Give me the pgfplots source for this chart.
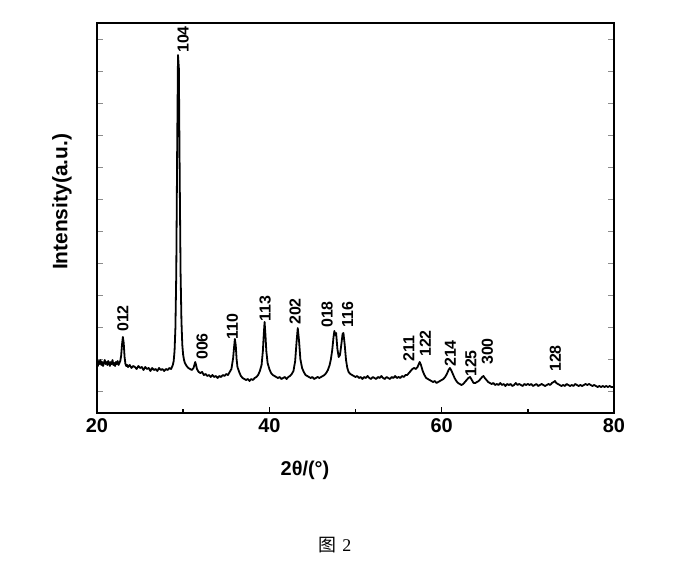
\documentclass[border=0pt]{standalone}
\usepackage{pgfplots}
\pgfplotsset{compat=1.18}
\usepackage{fontspec}
\setmainfont{Liberation Sans}
\newfontfamily\cjk{Noto Sans CJK SC}
\newfontfamily\serif{Liberation Serif}
\begin{document}
\begin{tikzpicture}
\useasboundingbox (0,0) rectangle (698bp,567bp);
\begin{axis}[
  at={(97bp,154bp)}, anchor=south west,
  scale only axis, width=517bp, height=390bp,
  xmin=20, xmax=80, ymin=0, ymax=390,
  xtick={20,40,60,80}, minor xtick={30,50,70},
  xtick pos=bottom,
  ytick={22,54,...,374}, yticklabels={},
  tick align=inside,
  major tick length=6bp, minor tick length=4bp,
  every tick/.style={black, line width=1.5bp},
  ytick style={line width=0.5bp, black!45},
  axis line style={line width=2.2bp},
  /pgf/number format/assume math mode=true,
  xticklabel style={font=\bfseries\fontsize{20}{20}\selectfont, yshift=-2bp},
  clip=false,
]
\addplot[black, line width=1.8bp, line join=round] coordinates {
(20.0,50)(20.1,47)(20.2,52)(20.3,49)(20.4,53)(20.5,48)(20.6,51)(20.7,47)(20.8,50)(20.9,53)
(21.0,49)(21.1,51)(21.2,48)(21.3,52)(21.4,50)(21.5,47)(21.6,51)(21.7,49)(21.8,53)(21.9,48)
(22.0,50)(22.1,47)(22.2,51)(22.3,49)(22.4,52)(22.5,48)(22.6,50)(22.7,52)(22.8,57)(22.9,68)
(23.0,76)(23.1,70)(23.2,56)(23.3,49)(23.4,47)(23.5,48)(23.6,46)(23.8,48)(24.0,45)(24.2,47)
(24.4,46)(24.6,44)(24.8,47)(25.0,45)(25.2,46)(25.4,43)(25.6,46)(25.8,44)(26.0,45)(26.2,42)
(26.4,45)(26.6,43)(26.8,44)(27.0,42)(27.2,45)(27.4,43)(27.6,44)(27.8,42)(28.0,44)(28.2,43)
(28.4,45)(28.6,44)(28.8,48)(28.9,52)(29.0,62)(29.1,85)(29.2,140)(29.3,260)(29.4,358)(29.5,345)
(29.6,235)(29.7,140)(29.8,92)(29.9,68)(30.0,58)(30.1,53)(30.2,50)(30.4,47)(30.6,45)(30.8,44)
(31.0,43)(31.2,45)(31.3,48)(31.4,51)(31.5,48)(31.6,44)(31.8,41)(32.0,40)(32.2,41)(32.4,38)
(32.6,39)(32.8,37)(33.0,38)(33.2,36)(33.4,38)(33.6,36)(33.8,37)(34.0,35)(34.2,37)(34.4,36)
(34.6,38)(34.8,37)(35.0,39)(35.2,38)(35.4,41)(35.6,44)(35.8,55)(35.9,65)(36.0,74)(36.1,68)
(36.2,54)(36.3,46)(36.5,41)(36.7,37)(36.9,35)(37.1,34)(37.3,33)(37.5,34)(37.7,32)(37.9,34)
(38.1,33)(38.3,35)(38.5,36)(38.7,38)(38.9,42)(39.1,48)(39.25,62)(39.35,78)(39.45,91)(39.55,78)
(39.65,62)(39.8,50)(40.0,44)(40.2,40)(40.4,38)(40.6,37)(40.8,36)(41.0,35)(41.2,36)(41.4,34)
(41.6,35)(41.8,36)(42.0,34)(42.2,36)(42.4,37)(42.6,39)(42.8,42)(43.0,52)(43.15,70)(43.3,85)
(43.45,72)(43.6,54)(43.8,45)(44.0,41)(44.2,38)(44.4,37)(44.6,36)(44.8,35)(45.0,36)(45.2,34)
(45.4,35)(45.6,36)(45.8,35)(46.0,36)(46.2,37)(46.4,38)(46.6,40)(46.8,43)(47.0,48)(47.15,54)
(47.3,63)(47.45,76)(47.55,82)(47.65,78)(47.75,80)(47.9,64)(48.05,56)(48.2,58)(48.35,68)(48.5,79)
(48.6,80)(48.75,68)(48.9,53)(49.05,45)(49.2,41)(49.4,39)(49.6,38)(49.8,37)(50.0,36)(50.2,37)
(50.4,35)(50.6,36)(50.8,34)(51.0,36)(51.2,35)(51.4,37)(51.6,35)(51.8,34)(52.0,36)(52.2,35)
(52.4,34)(52.6,36)(52.8,35)(53.0,37)(53.2,35)(53.4,34)(53.6,36)(53.8,35)(54.0,34)(54.2,36)
(54.4,35)(54.6,37)(54.8,35)(55.0,36)(55.2,35)(55.4,37)(55.6,36)(55.8,38)(56.0,38)(56.2,40)
(56.4,42)(56.6,44)(56.8,45)(57.0,44)(57.2,46)(57.35,49)(57.45,51)(57.6,48)(57.8,42)(58.0,38)
(58.2,35)(58.4,34)(58.6,33)(58.8,32)(59.0,31)(59.2,32)(59.4,30)(59.6,31)(59.8,32)(60.0,33)
(60.2,34)(60.4,36)(60.6,39)(60.8,43)(60.95,45)(61.1,43)(61.3,39)(61.5,35)(61.7,32)(61.9,30)
(62.1,29)(62.3,28)(62.5,29)(62.7,31)(62.9,33)(63.1,35)(63.3,36)(63.5,33)(63.7,30)(63.9,30)
(64.1,31)(64.3,32)(64.5,34)(64.7,36)(64.85,37)(65.0,35)(65.2,33)(65.4,31)(65.6,30)(65.8,29)
(66.0,30)(66.2,28)(66.4,29)(66.6,28)(66.8,30)(67.0,28)(67.2,29)(67.4,27)(67.6,29)(67.8,28)
(68.0,29)(68.2,27)(68.4,28)(68.6,30)(68.8,28)(69.0,29)(69.2,28)(69.4,27)(69.6,29)(69.8,28)
(70.0,29)(70.2,28)(70.4,29)(70.6,27)(70.8,28)(71.0,29)(71.2,27)(71.4,28)(71.6,29)(71.8,28)
(72.0,27)(72.2,28)(72.4,29)(72.6,28)(72.8,30)(73.0,31)(73.15,32)(73.3,30)(73.5,29)(73.7,28)
(73.9,27)(74.1,28)(74.3,27)(74.5,29)(74.7,28)(74.9,27)(75.1,28)(75.3,27)(75.5,29)(75.7,28)
(75.9,27)(76.1,28)(76.3,27)(76.5,28)(76.7,29)(76.9,28)(77.1,29)(77.3,28)(77.5,27)(77.7,28)
(77.9,27)(78.1,26)(78.3,27)(78.5,26)(78.7,27)(78.9,26)(79.1,27)(79.3,26)(79.5,27)(79.7,26)
(80.0,26)
};
\tikzset{pk/.style={rotate=90, anchor=west, inner sep=0pt, font=\bfseries\fontsize{16}{16}\selectfont}}
\node[pk] at (axis cs:23.0,81) {012};
\node[pk] at (axis cs:30.0,360) {104};
\node[pk] at (axis cs:32.2,53) {006};
\node[pk] at (axis cs:35.7,73) {110};
\node[pk] at (axis cs:39.5,91) {113};
\node[pk] at (axis cs:43.0,88) {202};
\node[pk] at (axis cs:46.7,85) {018};
\node[pk] at (axis cs:49.1,85) {116};
\node[pk] at (axis cs:56.2,51) {211};
\node[pk] at (axis cs:58.1,56) {122};
\node[pk] at (axis cs:61.0,46) {214};
\node[pk] at (axis cs:63.4,36) {125};
\node[pk] at (axis cs:65.3,48) {300};
\node[pk] at (axis cs:73.2,41) {128};
\end{axis}
\node[rotate=90, font=\bfseries\fontsize{21}{21}\selectfont] at (62bp,365bp) {Intensity(a.u.)};
\node[font=\bfseries\fontsize{20}{20}\selectfont] at (305bp,97bp) {2θ/(°)};
\node[font=\fontsize{18}{18}\selectfont] at (335bp,22bp) {{\cjk 图}\hspace{6bp}{\serif 2}};
\end{tikzpicture}
\end{document}
